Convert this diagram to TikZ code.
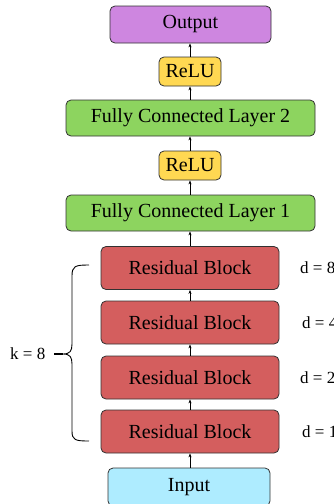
\documentclass[tikz,border=0pt]{standalone}
\usepackage{fontspec}
\setmainfont{Liberation Serif}
\usetikzlibrary{arrows.meta}
\definecolor{outc}{RGB}{206,134,224}
\definecolor{reluc}{RGB}{255,216,82}
\definecolor{fcc}{RGB}{141,212,95}
\definecolor{resc}{RGB}{212,94,94}
\definecolor{inc}{RGB}{174,236,255}
\definecolor{edgec}{RGB}{50,50,50}
\tikzset{
  box/.style={draw=edgec, line width=0.8pt, rounded corners=5pt, inner sep=0pt,
    font=\fontsize{20}{22}\selectfont},
  conn/.style={-{Stealth[length=4pt,width=3pt]}, line width=0.7pt, draw=black},
  lab/.style={font=\fontsize{17}{19}\selectfont, anchor=west, inner sep=0pt},
}
\begin{document}
\begin{tikzpicture}[x=1pt,y=-1pt]
\useasboundingbox (0,0) rectangle (333,504);
\clip (0,0) rectangle (333,504);
\node[box, fill=outc, minimum width=161pt, minimum height=37pt] (out) at (190.5,24.5) {Output};
\node[box, fill=reluc, minimum width=62pt, minimum height=29pt] (relu2) at (190,71.5) {ReLU};
\node[box, fill=fcc, minimum width=249pt, minimum height=36pt] (fc2) at (190.5,118) {Fully Connected Layer 2};
\node[box, fill=reluc, minimum width=62pt, minimum height=29pt] (relu1) at (190,165.5) {ReLU};
\node[box, fill=fcc, minimum width=249pt, minimum height=36pt] (fc1) at (190.5,213) {Fully Connected Layer 1};
\node[box, fill=resc, minimum width=178pt, minimum height=43pt] (rb1) at (190,268) {Residual Block};
\node[box, fill=resc, minimum width=178pt, minimum height=43pt] (rb2) at (190,322.5) {Residual Block};
\node[box, fill=resc, minimum width=178pt, minimum height=43pt] (rb3) at (190,377.5) {Residual Block};
\node[box, fill=resc, minimum width=178pt, minimum height=43pt] (rb4) at (190,431.5) {Residual Block};
\node[box, fill=inc, minimum width=162pt, minimum height=38pt] (in) at (189,487) {Input};
\draw[conn] (in.north -| rb4.south) -- (rb4.south);
\draw[conn] (rb4) -- (rb3);
\draw[conn] (rb3) -- (rb2);
\draw[conn] (rb2) -- (rb1);
\draw[conn] (rb1) -- (fc1.south -| rb1.north);
\draw[conn] (fc1.north -| relu1.south) -- (relu1);
\draw[conn] (relu1) -- (fc2.south -| relu1.north);
\draw[conn] (fc2.north -| relu2.south) -- (relu2);
\draw[conn] (relu2) -- (out.south -| relu2.north);
\node[lab] (d8) at (300,268) {d = 8};
\node[lab] (d4) at (302,323) {d = 4};
\node[lab] (d2) at (300,378) {d = 2};
\node[lab] (d1) at (302,432) {d = 1};
\node[lab] (k) at (10,354) {k = 8};
\coordinate (btop) at (89,265);
\coordinate (bbot) at (89,441);
\coordinate (btip) at (63,354);
\coordinate (bend) at (54,354);
\draw[line width=0.9pt] (btop) .. controls (75,265) and (72,266) .. (72,276) -- (72,344)
  .. controls (72,351) and (70,354) .. (btip)
  .. controls (70,354) and (72,357) .. (72,364) -- (72,431)
  .. controls (72,440) and (75,441) .. (bbot);
\draw[line width=1.6pt] (bend) -- (btip);
\end{tikzpicture}
\end{document}
